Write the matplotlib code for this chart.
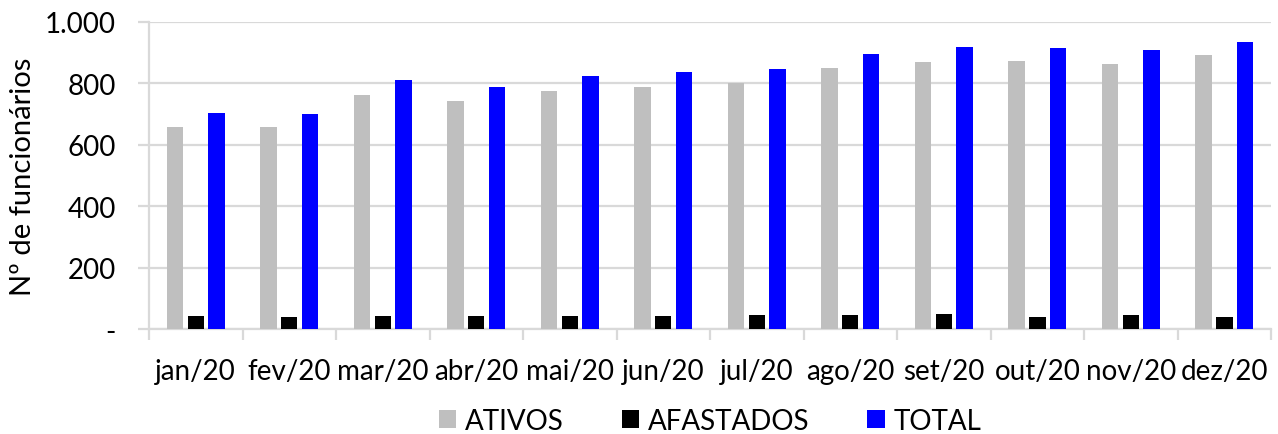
import numpy as np
import matplotlib
matplotlib.use("Agg")
import matplotlib.pyplot as plt
from matplotlib.ticker import FixedLocator, FuncFormatter

plt.rcParams['font.family'] = ['Lato', 'DejaVu Sans']

# data
meses = ['jan/20', 'fev/20', 'mar/20', 'abr/20', 'mai/20', 'jun/20',
         'jul/20', 'ago/20', 'set/20', 'out/20', 'nov/20', 'dez/20']
ativos = [656, 656, 760, 741, 776, 789, 799, 849, 868, 871, 863, 892]
afastados = [43, 40, 43, 43, 43, 44, 45, 45, 48, 41, 45, 41]
total = [703, 700, 809, 788, 823, 837, 845, 895, 919, 915, 908, 934]

series = ['ATIVOS', 'AFASTADOS', 'TOTAL']
cores = ['#BFBFBF', '#000000', '#0000FF']

fig = plt.figure(figsize=(12.78, 4.35), dpi=100)
ax = fig.add_axes([0.1166, 0.241, 0.878, 0.707])

x = np.arange(len(meses))
w = 0.175
step = 0.222
for k, (nome, vals, c) in enumerate(zip(series, [ativos, afastados, total], cores)):
    ax.bar(x + (k - 1) * step, vals, width=w, color=c, label=nome, zorder=3)

ax.set_xlim(-0.5, len(meses) - 0.5)
ax.set_ylim(0, 1000)
ax.set_yticks(np.arange(0, 1001, 200))

def fmt(v, pos):
    if v == 0:
        return '-'
    return '{:,.0f}'.format(v).replace(',', '.')

ax.yaxis.set_major_formatter(FuncFormatter(fmt))
ax.grid(axis='y', color='#D9D9D9', linewidth=1.6, zorder=0)

ax.set_xticks(x)
ax.set_xticklabels(meses)
ax.xaxis.set_minor_locator(FixedLocator(np.arange(-0.5, len(meses), 1.0)))
ax.tick_params(axis='x', which='major', length=0, pad=21, labelsize=20)
ax.tick_params(axis='x', which='minor', length=8, color='#D9D9D9', width=1.6)
ax.tick_params(axis='y', length=8, color='#D9D9D9', width=1.6, pad=16, labelsize=20)

for s in ['top', 'right']:
    ax.spines[s].set_visible(False)
for s in ['left', 'bottom']:
    ax.spines[s].set_color('#D9D9D9')
    ax.spines[s].set_linewidth(1.6)

ax.set_ylabel('Nº de funcionários', fontsize=21, labelpad=6)

ax.legend(loc='center', bbox_to_anchor=(0.5, -0.297), ncol=3, frameon=False,
          fontsize=20, handlelength=0.63, handleheight=0.63, handletextpad=0.3,
          columnspacing=2.1, borderpad=0.2)

fig.savefig('out.png', dpi=100)
